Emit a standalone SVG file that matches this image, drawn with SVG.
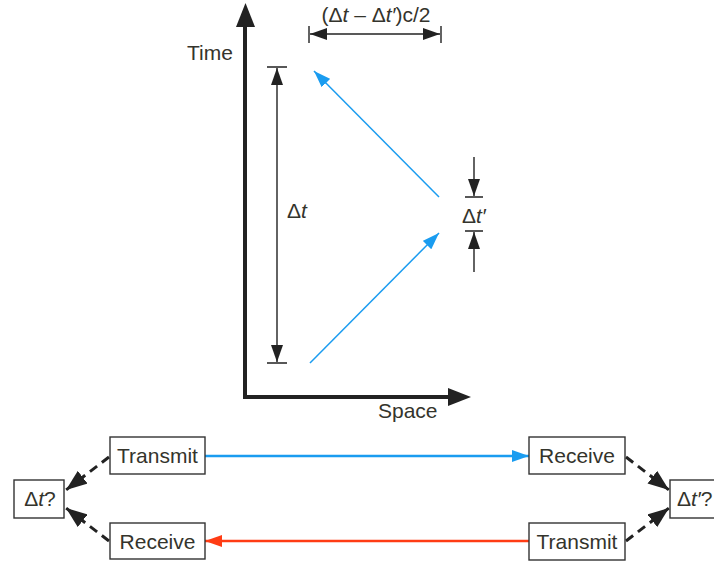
<svg xmlns="http://www.w3.org/2000/svg" width="714" height="561" viewBox="0 0 714 561">
<style>
text{font-family:"Liberation Sans",Arial,sans-serif;fill:#34342c}
.lbl{font-size:21px}
.dim{stroke:#222;stroke-width:1.4;fill:none}
.box{fill:#fff;stroke:#333;stroke-width:1.4}
.dash{stroke:#222;stroke-width:3;stroke-dasharray:9 6;fill:none}
</style>
<defs>
<marker id="ah" viewBox="0 0 10 10" preserveAspectRatio="none" refX="10" refY="5" markerWidth="17" markerHeight="12" markerUnits="userSpaceOnUse" orient="auto-start-reverse"><path d="M0,0L10,5L0,10z" fill="#222"/></marker>
<marker id="ahd" viewBox="0 0 10 10" preserveAspectRatio="none" refX="10" refY="5" markerWidth="21" markerHeight="16" markerUnits="userSpaceOnUse" orient="auto"><path d="M0,0L10,5L0,10z" fill="#222"/></marker>
<marker id="ab" viewBox="0 0 10 10" preserveAspectRatio="none" refX="10" refY="5" markerWidth="17" markerHeight="12" markerUnits="userSpaceOnUse" orient="auto"><path d="M0,0L10,5L0,10z" fill="#1a9cf0"/></marker>
<marker id="ar" viewBox="0 0 10 10" preserveAspectRatio="none" refX="10" refY="5" markerWidth="17" markerHeight="12" markerUnits="userSpaceOnUse" orient="auto"><path d="M0,0L10,5L0,10z" fill="#ff3c14"/></marker>
</defs>
<g id="axes">
<path d="M245,397V26" stroke="#222" stroke-width="4" fill="none"/>
<path d="M236,27L245.5,3L255,27z" fill="#222"/>
<path d="M243,397H449" stroke="#222" stroke-width="4" fill="none"/>
<path d="M448,388L471,397L448,406z" fill="#222"/>
<text x="187" y="60" class="lbl">Time</text>
<text x="378" y="418" class="lbl">Space</text>
</g>
<g id="dim-dt">
<path d="M267,67H287M267,363H287" class="dim"/>
<line x1="277" y1="68" x2="277" y2="362" class="dim" marker-start="url(#ah)" marker-end="url(#ah)"/>
<text x="287" y="218" class="lbl">Δ<tspan font-style="italic">t</tspan></text>
</g>
<g id="dim-dx">
<path d="M309,26V43M441,26V43" class="dim"/>
<line x1="310" y1="34" x2="440" y2="34" class="dim" marker-start="url(#ah)" marker-end="url(#ah)"/>
<text x="376" y="22" class="lbl" text-anchor="middle">(Δ<tspan font-style="italic">t</tspan> – Δ<tspan font-style="italic">t′</tspan>)c/2</text>
</g>
<g id="dim-dtp">
<path d="M465,197H483M465,231H483" class="dim"/>
<line x1="474" y1="157" x2="474" y2="196" class="dim" marker-end="url(#ah)"/>
<line x1="474" y1="272" x2="474" y2="232" class="dim" marker-end="url(#ah)"/>
<text x="462" y="223" class="lbl">Δ<tspan font-style="italic">t′</tspan></text>
</g>
<g id="signals">
<line x1="310" y1="363" x2="439" y2="233" stroke="#1a9cf0" stroke-width="1.5" marker-end="url(#ab)"/>
<line x1="439" y1="197" x2="314" y2="71" stroke="#1a9cf0" stroke-width="1.5" marker-end="url(#ab)"/>
</g>
<g id="connectors">
<line x1="205" y1="456" x2="529" y2="456" stroke="#1a9cf0" stroke-width="2.5" marker-end="url(#ab)"/>
<line x1="529" y1="541" x2="205" y2="541" stroke="#ff3c14" stroke-width="2.5" marker-end="url(#ar)"/>
<line x1="109" y1="457" x2="66" y2="490" class="dash" marker-end="url(#ahd)"/>
<line x1="109" y1="541" x2="66" y2="508" class="dash" marker-end="url(#ahd)"/>
<line x1="626" y1="457" x2="669" y2="490" class="dash" marker-end="url(#ahd)"/>
<line x1="626" y1="541" x2="669" y2="508" class="dash" marker-end="url(#ahd)"/>
</g>
<g id="transmit-left"><rect x="110" y="437" width="95" height="37" class="box"/><text x="157.5" y="463" class="lbl" text-anchor="middle">Transmit</text></g>
<g id="receive-left"><rect x="110" y="523" width="95" height="36" class="box"/><text x="157.5" y="549" class="lbl" text-anchor="middle">Receive</text></g>
<g id="dt-q"><rect x="14" y="480" width="50" height="38" class="box"/><text x="40" y="506" class="lbl" text-anchor="middle">Δ<tspan font-style="italic">t</tspan>?</text></g>
<g id="receive-right"><rect x="529" y="437" width="96" height="37" class="box"/><text x="577" y="463" class="lbl" text-anchor="middle">Receive</text></g>
<g id="transmit-right"><rect x="529" y="523" width="96" height="37" class="box"/><text x="577" y="549" class="lbl" text-anchor="middle">Transmit</text></g>
<g id="dtp-q"><rect x="670" y="480" width="50" height="38" class="box"/><text x="677" y="506" class="lbl">Δ<tspan font-style="italic">t′</tspan>?</text></g>
</svg>
